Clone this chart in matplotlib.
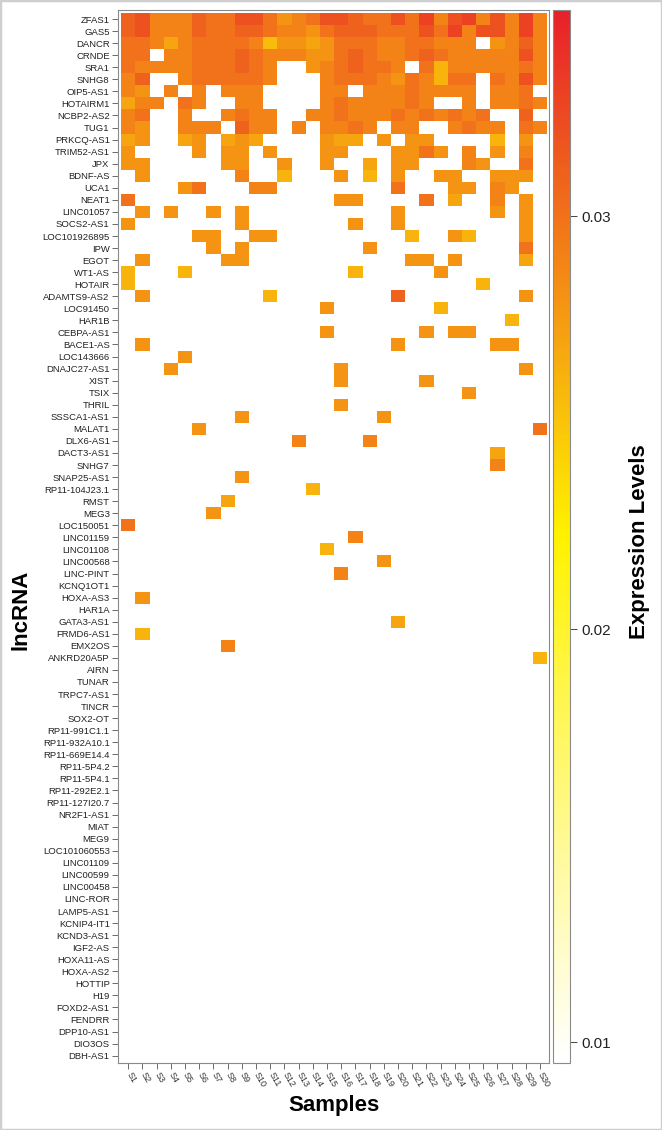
"""Heatmap of lncRNA expression levels across 30 samples"""

import numpy as np
import matplotlib
matplotlib.use("Agg")
import matplotlib.pyplot as plt
from matplotlib.colors import LinearSegmentedColormap
from matplotlib.patches import Rectangle

plt.rcParams["font.family"] = ["Liberation Sans", "DejaVu Sans"]

samples = ["S1", "S2", "S3", "S4", "S5", "S6", "S7", "S8", "S9", "S10",
           "S11", "S12", "S13", "S14", "S15", "S16", "S17", "S18", "S19", "S20",
           "S21", "S22", "S23", "S24", "S25", "S26", "S27", "S28", "S29", "S30"]

lncrnas = [
    "ZFAS1", "GAS5", "DANCR", "CRNDE", "SRA1", "SNHG8", "OIP5-AS1", "HOTAIRM1",
    "NCBP2-AS2", "TUG1", "PRKCQ-AS1", "TRIM52-AS1", "JPX", "BDNF-AS", "UCA1",
    "NEAT1", "LINC01057", "SOCS2-AS1", "LOC101926895", "IPW", "EGOT", "WT1-AS",
    "HOTAIR", "ADAMTS9-AS2", "LOC91450", "HAR1B", "CEBPA-AS1", "BACE1-AS",
    "LOC143666", "DNAJC27-AS1", "XIST", "TSIX", "THRIL", "SSSCA1-AS1", "MALAT1",
    "DLX6-AS1", "DACT3-AS1", "SNHG7", "SNAP25-AS1", "RP11-104J23.1", "RMST",
    "MEG3", "LOC150051", "LINC01159", "LINC01108", "LINC00568", "LINC-PINT",
    "KCNQ1OT1", "HOXA-AS3", "HAR1A", "GATA3-AS1", "FRMD6-AS1", "EMX2OS",
    "ANKRD20A5P", "AIRN", "TUNAR", "TRPC7-AS1", "TINCR", "SOX2-OT",
    "RP11-991C1.1", "RP11-932A10.1", "RP11-669E14.4", "RP11-5P4.2", "RP11-5P4.1",
    "RP11-292E2.1", "RP11-127I20.7", "NR2F1-AS1", "MIAT", "MEG9", "LOC101060553",
    "LINC01109", "LINC00599", "LINC00458", "LINC-ROR", "LAMP5-AS1", "KCNIP4-IT1",
    "KCND3-AS1", "IGF2-AS", "HOXA11-AS", "HOXA-AS2", "HOTTIP", "H19", "FOXD2-AS1",
    "FENDRR", "DPP10-AS1", "DIO3OS", "DBH-AS1",
]

# expression level of each coded cell
levels = {"1": 0.0255, "2": 0.026, "3": 0.027, "4": 0.028, "5": 0.029,
          "6": 0.030, "7": 0.031, "8": 0.032, "9": 0.033}

# one string per lncRNA, S1..S30 in groups of ten, "." = not expressed
EMPTY = ".......... .......... .........."
expression = [
    "7855576688 6456887668 6958958595",  # ZFAS1
    "7855576677 6554677766 6869588595",  # GAS5
    "6653566665 1443466655 66555.4575",  # DANCR
    "66.5566676 5554467655 6765555585",  # CRNDE
    "6555566676 5..4567665 .625555565",  # SRA1
    "57..566666 5...566654 65266.6585",  # SNHG8
    "54.5.5.555 ....55.555 65555.556.",  # OIP5-AS1
    "355.65..55 ....565555 65..5.5565",  # HOTAIRM1
    "56..5..565 5..5565556 565656..7.",  # NCBP2-AS2
    "54..555.75 5.5.5565.5 5..5655.65",  # TUG1
    "34..34.343 ....433.4. 44....2.4.",  # PRKCQ-AS1
    "4....4.44. 4...44...4 464.5.4.5.",  # TRIM52-AS1
    "44.....44. .4..4..3.4 4...54..6.",  # JPX
    ".4......5. .2...4.2.4 ..44..444.",  # BDNF-AS
    "....46...5 5........6 ...44.54..",  # UCA1
    "6......... .....44... .6.3..5.4.",  # NEAT1
    ".4.4..4.4. .........4 ......4.4.",  # LINC01057
    "4.......4. ......4..4 ........4.",  # SOCS2-AS1
    ".....44..4 4......... 2..42...4.",  # LOC101926895
    "......4.4. .......4.. ........6.",  # IPW
    ".4.....44. .......... 44.4....3.",  # EGOT
    "2...2..... ......2... ..4.......",  # WT1-AS
    "2......... .......... .....2....",  # HOTAIR
    ".4........ 2........7 ........4.",  # ADAMTS9-AS2
    ".......... ....4..... ..2.......",  # LOC91450
    ".......... .......... .......2..",  # HAR1B
    ".......... ....4..... .4.44.....",  # CEBPA-AS1
    ".4........ .........4 ......44..",  # BACE1-AS
    "....4..... .......... ..........",  # LOC143666
    "...4...... .....4.... ........4.",  # DNAJC27-AS1
    ".......... .....4.... .4........",  # XIST
    ".......... .......... ....4.....",  # TSIX
    ".......... .....4.... ..........",  # THRIL
    "........4. ........4. ..........",  # SSSCA1-AS1
    ".....4.... .......... .........6",  # MALAT1
    ".......... ..5....5.. ..........",  # DLX6-AS1
    ".......... .......... ......3...",  # DACT3-AS1
    ".......... .......... ......5...",  # SNHG7
    "........4. .......... ..........",  # SNAP25-AS1
    ".......... ...2...... ..........",  # RP11-104J23.1
    ".......3.. .......... ..........",  # RMST
    "......4... .......... ..........",  # MEG3
    "6......... .......... ..........",  # LOC150051
    ".......... ......5... ..........",  # LINC01159
    ".......... ....2..... ..........",  # LINC01108
    ".......... ........4. ..........",  # LINC00568
    ".......... .....5.... ..........",  # LINC-PINT
    EMPTY,                               # KCNQ1OT1
    ".4........ .......... ..........",  # HOXA-AS3
    EMPTY,                               # HAR1A
    ".......... .........3 ..........",  # GATA3-AS1
    ".2........ .......... ..........",  # FRMD6-AS1
    ".......5.. .......... ..........",  # EMX2OS
    ".......... .......... .........2",  # ANKRD20A5P
] + [EMPTY] * 33


def build_grid():
    """Turn the coded rows into a matrix with NaN for empty cells"""

    grid = np.full((len(lncrnas), len(samples)), np.nan)
    for i, row in enumerate(expression):
        cells = row.replace(" ", "")
        for j, code in enumerate(cells):
            if code != ".":
                grid[i, j] = levels[code]
    return grid


W, H = 662, 1130
fig = plt.figure(figsize=(W / 100, H / 100), dpi=100)
ax = fig.add_axes([118 / W, 1 - 1063 / H, (549 - 118) / W, (1063 - 10) / H])

cmap = LinearSegmentedColormap.from_list(
    "expr", ["#FFFFFF", "#FFF200", "#E8202A"])
grid = build_grid()
mesh = ax.pcolormesh(np.arange(0.5, len(samples) + 1),
                     np.arange(0.5, len(lncrnas) + 1),
                     np.ma.masked_invalid(grid),
                     cmap=cmap, vmin=0.0095, vmax=0.035)
ax.set_xlim(0.28, 30.63)
ax.set_ylim(87.61, 0.25)

ax.set_yticks(range(1, len(lncrnas) + 1))
ax.set_yticklabels(lncrnas, fontsize=6.8, color="#222222")
ax.set_xticks(range(1, len(samples) + 1))
ax.set_xticklabels(samples, fontsize=6.5, color="#333333", rotation=-60,
                   ha="left", va="center", rotation_mode="anchor")
ax.tick_params(axis="both", length=4, width=0.6, color="#555555", pad=2)
ax.tick_params(axis="x", pad=3)
for spine in ax.spines.values():
    spine.set_edgecolor("#8a8a8a")
    spine.set_linewidth(0.8)

cax = fig.add_axes([553 / W, 1 - 1063 / H, 17 / W, (1063 - 10) / H])
cb = fig.colorbar(mesh, cax=cax, ticks=[0.01, 0.02, 0.03])
cb.ax.set_yticklabels(["0.01", "0.02", "0.03"])
cb.ax.tick_params(labelsize=11, length=5, width=0.7, color="#444444",
                  labelcolor="#222222")
cb.outline.set_edgecolor("#8a8a8a")
cb.outline.set_linewidth(0.8)

fig.text(21 / W, 1 - 610 / H, "lncRNA", rotation=90, fontsize=16,
         fontweight="bold", ha="center", va="center")
fig.text(334 / W, 1 - 1105 / H, "Samples", fontsize=16,
         fontweight="bold", ha="center", va="center")
fig.text(640 / W, 1 - 542 / H, "Expression Levels", rotation=90,
         fontsize=16, fontweight="bold", ha="center", va="center")

fig.patches.append(Rectangle((0, 0), 1, 1, transform=fig.transFigure,
                             fill=False, edgecolor="#cfcfcf", linewidth=2.5))

fig.savefig("out.png", dpi=100)
